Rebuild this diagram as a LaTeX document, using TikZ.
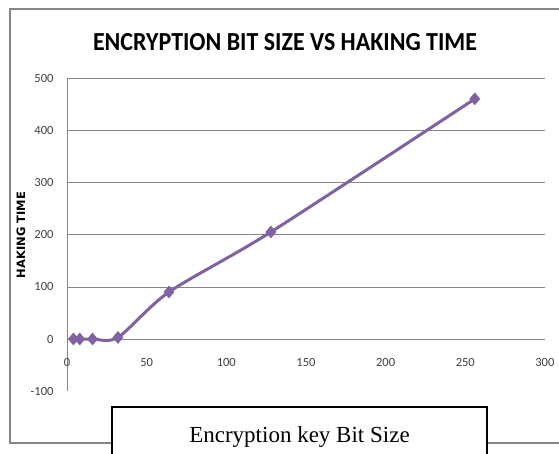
\documentclass[tikz,border=0pt]{standalone}
\usepackage{fontspec}
\setmainfont{Carlito}
\newfontfamily\boxfont{Liberation Serif}
\newfontfamily\labelfont{DejaVu Sans}
\usetikzlibrary{shapes.geometric}
\definecolor{seriescolor}{HTML}{7F62A1}
\definecolor{gridgray}{HTML}{868686}

\begin{document}
\begin{tikzpicture}[x=1pt, y=1pt,
  datamark/.style={diamond, fill=seriescolor, inner sep=0pt, minimum width=11pt, minimum height=13pt},
  ticklabel/.style={font=\fontsize{12.5}{14}\selectfont, text=black!75}]
\useasboundingbox (0,0) rectangle (559,454);
\fill[white] (0,0) rectangle (559,454);
% chart frame
\draw[gridgray, line width=1.5pt] (575,11) -- (10,11) -- (10,445) -- (575,445);
\node[font=\bfseries\fontsize{26}{30}\selectfont, xscale=0.92] (title) at (285,412) {ENCRYPTION BIT SIZE VS HAKING TIME};
\node[rotate=90, font=\labelfont\bfseries\fontsize{11.5}{14}\selectfont] (ylabel) at (21,219) {HAKING TIME};
% plot area
\begin{scope}[shift={(67,115)}, x=1.593pt, y=0.522pt]
  \foreach \v in {100,200,400,500}
    \draw[gridgray] (0,\v) -- (300,\v);
  \draw[gridgray, line width=1.2pt] (0,300) -- (300,300);
  \draw[gridgray] (0,-100) -- (0,500);
  \draw[gridgray] (0,0) -- (300,0);
  \foreach \v in {-100,0,100,200,300,400,500}
    \node[ticklabel, anchor=east] at ([xshift=-10pt]0,\v) {\v};
  \foreach \v in {0,50,...,300}
    \node[ticklabel] at ([yshift=-23pt]\v,0) {\v};
  % data series
  \draw[seriescolor, line width=3pt] plot[smooth, tension=0.45]
    coordinates {(4,0) (8,0) (16,0) (32,3) (64,90) (128,205) (256,460)};
  \foreach \bits/\t in {4/0, 8/0, 16/0, 32/3, 64/90, 128/205, 256/460}
    \node[datamark] (p\bits) at (\bits,\t) {};
\end{scope}
% axis title box
\node[draw, line width=1.5pt, fill=white, minimum width=375pt, minimum height=60pt,
  font=\boxfont\fontsize{23}{26}\selectfont] (xlabel) at (299.5,17) {Encryption key Bit Size};
\end{tikzpicture}
\end{document}
